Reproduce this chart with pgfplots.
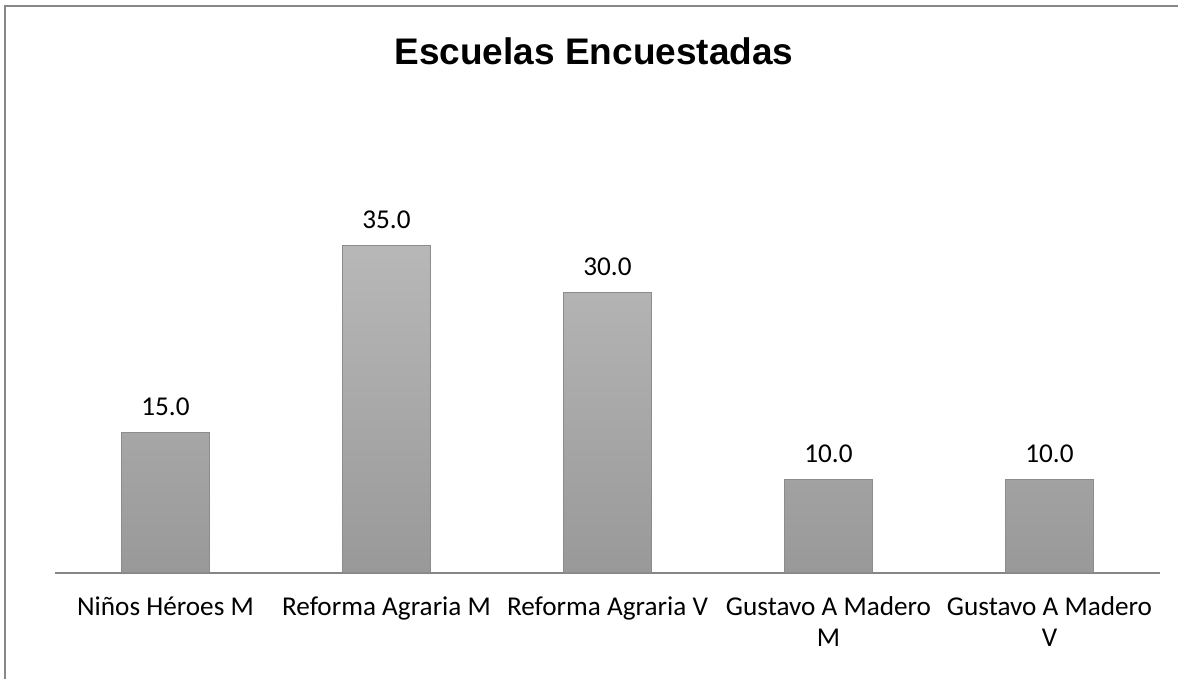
\documentclass[border=0pt]{standalone}
\usepackage{pgfplots}
\pgfplotsset{compat=1.18}
\usepackage{fontspec}
\setmainfont{Carlito}
\newfontfamily\titlefont{Liberation Sans}

\definecolor{framegray}{HTML}{888888}
\definecolor{axisgray}{HTML}{868686}

\newcommand\lbl[1]{\begin{tabular}{@{}c@{}}#1\end{tabular}}

\begin{document}
\begin{tikzpicture}
% page: 1178 x 679 px at 0.5pt per px
\path[use as bounding box] (0,0) rectangle (589pt,339.5pt);
\draw[framegray, line width=1pt] (2.5pt,0) -- (2.5pt,336.5pt) -- (589pt,336.5pt);
\node[font=\titlefont\bfseries\fontsize{18.5}{22}\selectfont] at (297pt,314pt) {Escuelas Encuestadas};
\begin{axis}[
    scale only axis,
    width=552.5pt,
    height=233.75pt,
    at={(27.5pt,53pt)},
    anchor=south west,
    ybar,
    bar width=44pt,
    bar shift=0pt,
    xmin=-0.5, xmax=4.5,
    ymin=0, ymax=50,
    axis x line=bottom,
    axis y line=none,
    axis line style={-, draw=axisgray, line width=1pt},
    xtick=data,
    xticklabels={
        {\lbl{Niños Héroes M}},
        {\lbl{Reforma Agraria M}},
        {\lbl{Reforma Agraria V}},
        {\lbl{Gustavo A Madero\\[0.5pt]M}},
        {\lbl{Gustavo A Madero\\[0.5pt]V}}},
    major tick length=0pt,
    x tick label style={font=\fontsize{13.6}{15}\selectfont, anchor=north, inner sep=0pt, yshift=-10.8pt},
    nodes near coords,
    every node near coord/.append style={font=\fontsize{13.6}{15}\selectfont, yshift=5pt},
    /pgf/number format/.cd, fixed, fixed zerofill, precision=1, assume math mode=true,
]
\addplot[top color=black!28, bottom color=black!40, draw=black!45, line width=0.6pt] coordinates {
    (0,15)
    (1,35)
    (2,30)
    (3,10)
    (4,10)
};
\end{axis}
\end{tikzpicture}
\end{document}
